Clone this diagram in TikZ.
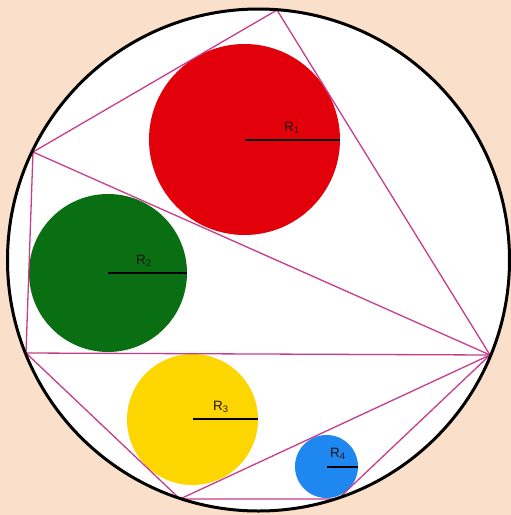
\documentclass[tikz,border=0pt]{standalone}
\usepackage{fontspec}
\setmainfont{Liberation Sans}
\definecolor{bg}{RGB}{250,224,202}
\definecolor{chord}{RGB}{200,60,140}
\definecolor{cred}{RGB}{226,0,10}
\definecolor{cgreen}{RGB}{10,110,18}
\definecolor{cyellow}{RGB}{253,214,0}
\definecolor{cblue}{RGB}{30,136,240}
\definecolor{ltext}{RGB}{30,20,20}
\begin{document}
\begin{tikzpicture}[x=1pt,y=-1pt,
  chordline/.style={draw=chord,line width=1.3pt},
  radline/.style={draw=black,line width=2.4pt},
  rlabel/.style={font=\fontsize{13.5}{15}\selectfont,text=ltext,inner sep=0pt}]
\useasboundingbox (0,0) rectangle (511,515);
\fill[bg] (0,0) rectangle (511,515);
\fill[white] (258.5,260) circle (250.5);
% coloured circles
\fill[cred] (244.5,139.5) circle (95.5);
\fill[cgreen] (108,273) circle (79);
\fill[cyellow] (192.5,419.5) circle (65.5);
\fill[cblue] (326.5,466.5) circle (31.5);
% polygon vertices
\coordinate (A) at (277,10);
\coordinate (B) at (33,152);
\coordinate (C) at (26,353);
\coordinate (D) at (180,499);
\coordinate (E) at (338,499);
\coordinate (F) at (490,355);
\draw[chordline] (A) -- (B) -- (C) -- (D) -- (E) -- (F) -- cycle;
\draw[chordline] (B) -- (F);
\draw[chordline] (C) -- (F);
\draw[chordline] (D) -- (F);
% outer circle
\draw[line width=3pt] (258.5,260) circle (251);
% radii
\coordinate (c1) at (245,140); \coordinate (e1) at (340,140);
\coordinate (c2) at (108,273); \coordinate (e2) at (187,273);
\coordinate (c3) at (193,419); \coordinate (e3) at (258,419);
\coordinate (c4) at (327,467); \coordinate (e4) at (358,467);
\draw[radline] (c1) -- (e1);
\draw[radline] (c2) -- (e2);
\draw[radline] (c3) -- (e3);
\draw[radline] (c4) -- (e4);
\node[rlabel] (l1) at (292,128) {R\textsubscript{1}};
\node[rlabel] (l2) at (144,261) {R\textsubscript{2}};
\node[rlabel] (l3) at (221,407) {R\textsubscript{3}};
\node[rlabel] (l4) at (338,454) {R\textsubscript{4}};
\end{tikzpicture}
\end{document}
